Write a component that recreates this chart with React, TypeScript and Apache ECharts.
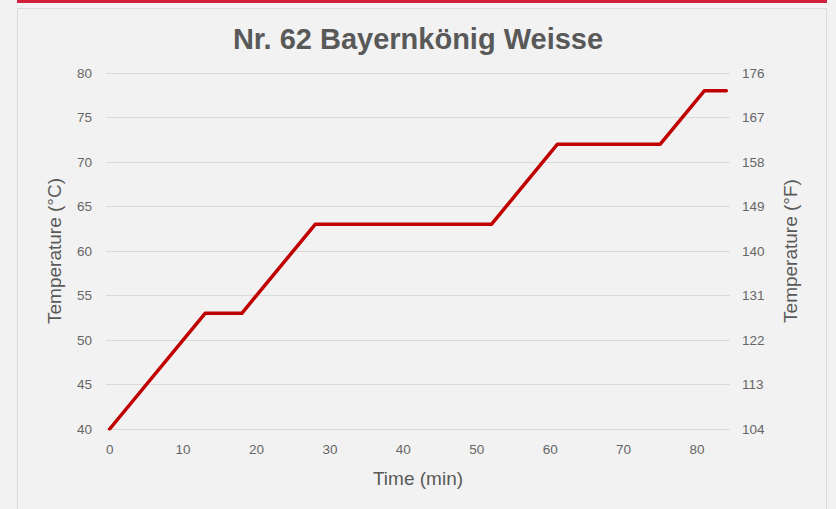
import React, { useEffect, useRef } from "react";
import * as echarts from "echarts";

const timeMin = [0, 13, 18, 28, 52, 61, 75, 81, 84];
const tempC = [40, 53, 53, 63, 63, 72, 72, 78, 78];
const xTickLabels = [0, 10, 20, 30, 40, 50, 60, 70, 80];
const fTickLabels = [104, 113, 122, 131, 140, 149, 158, 167, 176];

export default function App() {
  const ref = useRef<HTMLDivElement>(null);
  useEffect(() => {
    const chart = echarts.init(ref.current!, null, { renderer: "svg" });
    const font = "'Liberation Sans', Arial, sans-serif";
    const lab = { color: "#666666", fontSize: 13.5, fontFamily: font };
    chart.setOption({
      animation: false,
      backgroundColor: "#f2f2f2",
      title: {
        text: "Nr. 62 Bayernkönig Weisse",
        left: "center",
        top: 19,
        textStyle: { color: "#595959", fontSize: 29, fontWeight: "bold", fontFamily: font },
      },
      graphic: [
        { type: "rect", shape: { x: 17.5, y: 8.5, width: 809, height: 510 }, style: { fill: "none", stroke: "#dcdcdc", lineWidth: 1 }, silent: true },
        { type: "rect", shape: { x: 17, y: 0, width: 810, height: 3 }, style: { fill: "#d21f3c" }, silent: true },
      ],
      grid: { left: 106, right: 106, top: 73, bottom: 80, containLabel: false },
      xAxis: {
        type: "value",
        min: -0.5,
        max: 84.5,
        name: "Time (min)",
        nameLocation: "middle",
        nameGap: 40,
        nameTextStyle: { color: "#595959", fontSize: 19, fontFamily: font },
        axisLine: { show: false },
        axisTick: { show: false },
        splitLine: { show: false },
        axisLabel: { ...lab, margin: 13, customValues: xTickLabels },
      },
      yAxis: [
        {
          type: "value",
          min: 40,
          max: 80,
          interval: 5,
          name: "Temperature (°C)",
          nameLocation: "middle",
          nameGap: 42,
          nameTextStyle: { color: "#595959", fontSize: 19, fontFamily: font },
          axisLine: { show: false },
          axisTick: { show: false },
          axisLabel: { ...lab, margin: 14 },
          splitLine: { lineStyle: { color: "#d9d9d9", width: 1 } },
        },
        {
          type: "value",
          min: fTickLabels[0],
          max: fTickLabels[fTickLabels.length - 1],
          interval: 9,
          position: "right",
          name: "Temperature (°F)",
          nameLocation: "middle",
          nameGap: 51,
          nameRotate: 90,
          nameTextStyle: { color: "#595959", fontSize: 19, fontFamily: font },
          axisLine: { show: false },
          axisTick: { show: false },
          axisLabel: { ...lab, margin: 12 },
          splitLine: { show: false },
        },
      ],
      series: [
        {
          type: "line",
          data: timeMin.map((t, i) => [t, tempC[i]]),
          symbol: "none",
          lineStyle: { color: "#c00000", width: 3.5, cap: "round", join: "round" },
        },
      ],
    });
    return () => chart.dispose();
  }, []);
  return (
    <div
      ref={ref}
      style={{ position: "fixed", left: 0, top: 0, width: 836, height: 509 }}
    />
  );
}
